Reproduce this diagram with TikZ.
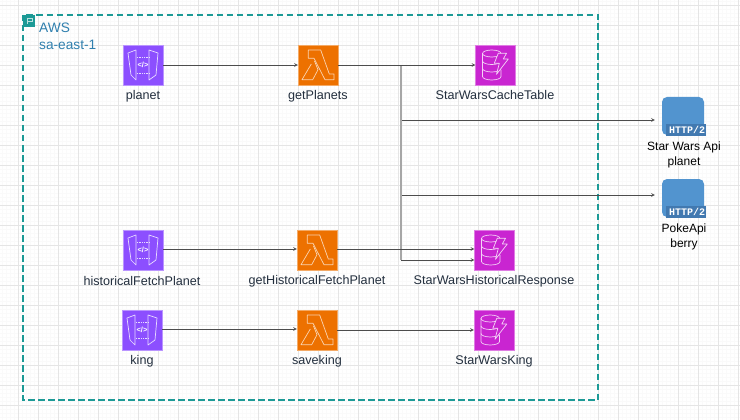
\documentclass[tikz,border=0pt]{standalone}
\usepackage{fontspec}
\setmainfont{Liberation Sans}
\setmonofont{Liberation Mono}
\usetikzlibrary{positioning,arrows}
\definecolor{awsTeal}{HTML}{1C9A96}
\definecolor{awsText}{HTML}{2F7FAE}
\definecolor{apiPurple}{HTML}{8C4FFF}
\definecolor{lambdaOrange}{HTML}{ED7100}
\definecolor{dynamoPink}{HTML}{C925D1}
\definecolor{httpBlue}{HTML}{5294CF}
\definecolor{httpDark}{HTML}{4279B0}
\definecolor{labelInk}{HTML}{232F3E}
\tikzset{
  apiBox/.style={rectangle, fill=apiPurple, draw=apiPurple!60, minimum size=40pt, inner sep=0pt},
  lambdaBox/.style={rectangle, fill=lambdaOrange, draw=lambdaOrange!60, minimum size=40pt, inner sep=0pt},
  dynamoBox/.style={rectangle, fill=dynamoPink, draw=dynamoPink!60, minimum size=40pt, inner sep=0pt},
  httpBox/.style={rectangle, rounded corners=5pt, fill=httpBlue, minimum width=42pt, minimum height=38pt, inner sep=0pt},
  caption/.style={font=\fontsize{12.6}{15}\selectfont, text=labelInk, align=center, inner sep=0pt},
  glyph/.style={draw=white!80!apiPurple, line width=0.7pt, line join=round},
  link/.style={-stealth, draw=black!70, line width=0.6pt},
  trunk/.style={draw=black!35, line width=1.2pt},
  apiGlyph/.pic={
    \draw[glyph] (-15,-12) -- (-7,-15) -- (-7,15) -- (-12,10) -- cycle;
    \draw[glyph] (15,-12) -- (6,-15) -- (6,15) -- (13,10) -- cycle;
    \draw[glyph, densely dotted] (-6,-8) -- (6,-8) (-6,8) -- (6,8);
    \node[text=white, font=\fontsize{7.5}{8}\selectfont\bfseries, inner sep=0pt] at (0,0) {</>};
  },
  lambdaGlyph/.pic={
    \draw[glyph, draw=white!70!lambdaOrange] (-9.7,-15) -- (2.7,-15) -- (11.3,9) -- (16,9) -- (16,14.7) -- (7,14.7) -- (-4,-6.7) -- (-9.7,-6.7) -- cycle;
    \draw[glyph, draw=white!70!lambdaOrange] (-6.7,-1) -- (-16,14.7) -- (-5.3,14.7) -- (0,4.7) -- (-3.5,-4);
  },
  dynamoGlyph/.pic={
    \draw[glyph, draw=white!80!dynamoPink] (-13,-11.5) -- (-13,11.5) arc[start angle=180, end angle=0, x radius=9.25, y radius=3.5] -- (5.5,5);
    \draw[glyph, draw=white!80!dynamoPink] (-3.75,-11.5) ellipse[x radius=9.25, y radius=3.5];
    \draw[glyph, draw=white!80!dynamoPink] (-13,-4) arc[start angle=180, end angle=0, x radius=9.25, y radius=3.5];
    \draw[glyph, draw=white!80!dynamoPink] (-13,3.5) arc[start angle=180, end angle=0, x radius=9.25, y radius=3.5];
    \draw[glyph, draw=white!80!dynamoPink, fill=dynamoPink] (2.8,-11.7) -- (11,-11.7) -- (7.8,-6) -- (12.8,-6) -- (1,9.3) -- (3.8,-1.7) -- (-1.2,-1.7) -- cycle;
  }
}

\begin{document}
\begin{tikzpicture}[y=-1pt, x=1pt]
      \useasboundingbox (0,0) rectangle (740,420);
      \fill[white] (0,0) rectangle (740,420);

      % grid
      \foreach \gx in {2,6,...,740} \draw[black!2, line width=0.4pt] (\gx,0) -- (\gx,420);
      \foreach \gy in {1.5,5.5,...,420} \draw[black!2, line width=0.4pt] (0,\gy) -- (740,\gy);
      \foreach \gx in {18,38,...,740} \draw[black!10, line width=0.6pt] (\gx,0) -- (\gx,420);
      \foreach \gy in {5.5,25.5,...,420} \draw[black!10, line width=0.6pt] (0,\gy) -- (740,\gy);

      % region
      \draw[awsTeal, line width=2pt, dash pattern=on 6.5pt off 3.5pt] (23,15) rectangle (598,400);
      \fill[awsTeal] (23,15) rectangle (35,27);
      \draw[white!70!awsTeal, line width=0.4pt] (27,18) -- (27,24) (27,18) -- (32,18) -- (32,21) -- (27,21);
      \node[caption, font=\fontsize{13.7}{17}\selectfont, text=awsText, align=left, anchor=north west] (awsRegion) at (39,22.5) {AWS\\sa-east-1};

      % first row
      \node[apiBox] (planetApi) at (143,65) {};
      \node[lambdaBox] (getPlanets) at (318,65) {};
      \node[dynamoBox] (cacheTable) at (495.5,65) {};
      \node[caption] (planetCap) at (143,96) {planet};
      \node[caption] (getPlanetsCap) at (318,96) {getPlanets};
      \node[caption] (cacheTableCap) at (495,95) {StarWarsCacheTable};

      % second row
      \node[apiBox] (historicalApi) at (143,250) {};
      \node[lambdaBox] (getHistorical) at (317,250) {};
      \node[dynamoBox] (historicalTable) at (494.5,250) {};
      \node[caption] (historicalCap) at (142,281) {historicalFetchPlanet};
      \node[caption] (getHistoricalCap) at (317,281) {getHistoricalFetchPlanet};
      \node[caption] (historicalTableCap) at (494,281) {StarWarsHistoricalResponse};

      % third row
      \node[apiBox] (kingApi) at (142,330) {};
      \node[lambdaBox] (saveKing) at (317,330) {};
      \node[dynamoBox] (kingTable) at (494,330) {};
      \node[caption] (kingCap) at (142,361) {king};
      \node[caption] (saveKingCap) at (317,361) {saveking};
      \node[caption] (kingTableCap) at (494,361) {StarWarsKing};

      % external apis
      \node[httpBox] (starWarsApi) at (683,116) {};
      \node[httpBox] (pokeApi) at (683,198) {};
      \node[caption, font=\fontsize{12}{15}\selectfont, text=black] (starWarsCap) at (684,154.5) {Star Wars Api\\planet};
      \node[caption, font=\fontsize{12}{15}\selectfont, text=black] (pokeCap) at (684,236.5) {PokeApi\\berry};

      \foreach \api in {planetApi,historicalApi,kingApi} \pic at (\api) {apiGlyph};
      \foreach \fn in {getPlanets,getHistorical,saveKing} \pic at (\fn) {lambdaGlyph};
      \foreach \tb in {cacheTable,historicalTable,kingTable} \pic at (\tb) {dynamoGlyph};

      \foreach \ext in {starWarsApi,pokeApi} {
        \fill[httpDark] ([xshift=-38pt,yshift=11pt]\ext.south east) rectangle ([xshift=2pt,yshift=-1pt]\ext.south east);
        \node[text=white, font=\fontsize{10}{10}\selectfont\ttfamily\bfseries, inner sep=0pt] at ([xshift=-17pt,yshift=5pt]\ext.south east) {HTTP/2};
      }

      % connectors
      \coordinate (trunkTop) at (401,65);
      \coordinate (trunkEnd) at (401,260);
      \coordinate (trunkApi) at (402,120);
      \coordinate (trunkPoke) at (402,195);
      \draw[trunk] (trunkTop) -- (trunkEnd);
      \draw[link] (planetApi.east) -- (getPlanets.west);
      \draw[link] (getPlanets.east) -- (cacheTable.west);
      \draw[link, shorten >=7pt] (trunkApi) -- (trunkApi -| starWarsApi.west);
      \draw[link, shorten >=7pt] (trunkPoke) -- (trunkPoke -| pokeApi.west);
      \draw[link] (trunkEnd) -- (trunkEnd -| historicalTable.west);
      \draw[link] ([yshift=1pt]historicalApi.east) -- ([yshift=1pt]getHistorical.west);
      \draw[link] ([yshift=1pt]getHistorical.east) -- ([yshift=1pt]historicalTable.west);
      \draw[link] ([yshift=1pt]kingApi.east) -- ([yshift=1pt]saveKing.west);
      \draw[link] (saveKing.east) -- (kingTable.west);

    \end{tikzpicture}
\end{document}
